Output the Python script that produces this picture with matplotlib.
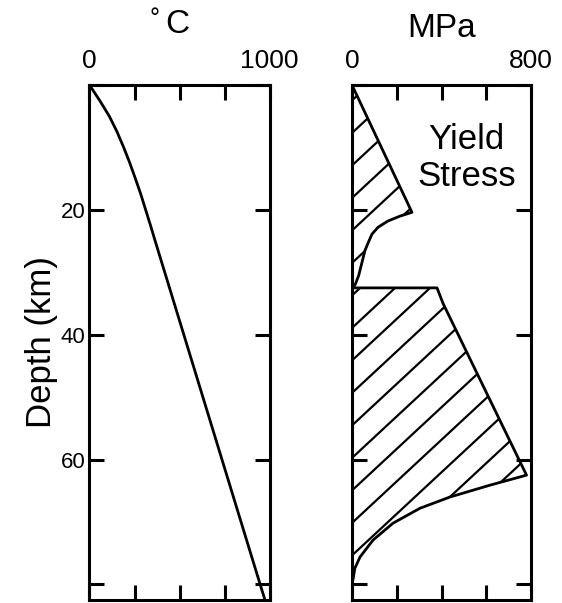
import numpy as np
import matplotlib
matplotlib.use("Agg")
import matplotlib.pyplot as plt
from matplotlib.patches import Polygon

plt.rcParams['font.family'] = ['Liberation Sans', 'DejaVu Sans']

# geotherm: depth (km) vs temperature (C)
depth_T = [0, 2.5, 5, 7.5, 10, 12.5, 15, 17.5, 20, 22.5, 25, 30, 40, 50, 60, 70, 80, 82.5]
temp = [0, 57, 110, 153, 190, 224, 255, 285, 312, 339, 365, 418, 524, 630, 736, 842, 948, 975]

# yield stress envelope, upper (crust) wedge
crust_depth = [0, 20.4, 21.0, 21.8, 22.8, 23.9, 25.3, 26.5, 28.5, 30.5, 32.0, 32.5]
crust_stress = [0, 268, 215, 160, 116, 89, 72, 58, 44, 30, 14, 0]

# yield stress envelope, mantle block
mantle_depth = [32.5, 32.5, 35, 62.5, 64.1, 66.0, 67.8, 70.2, 72.9, 75.6, 77.4, 79.3, 79.5]
mantle_stress = [0, 380, 407, 780, 617, 438, 304, 183, 94, 36, 13, 4, 0]

depth_ticks = [0, 20, 40, 60, 80]
depth_labels = ['', '20', '40', '60', '']
temp_ticks = [0, 250, 500, 750, 1000]
temp_labels = ['0', '', '', '', '1000']
stress_ticks = [0, 200, 400, 600, 800]
stress_labels = ['0', '', '', '', '800']

fig = plt.figure(figsize=(5.62, 6.03), dpi=100)
ax1 = fig.add_axes([89.5 / 562, 3 / 603, 180 / 562, 515 / 603])
ax2 = fig.add_axes([352 / 562, 3 / 603, 179 / 562, 515 / 603])

for ax in (ax1, ax2):
    ax.set_ylim(82.5, 0)
    ax.set_yticks(depth_ticks)
    ax.xaxis.tick_top()
    ax.tick_params(axis='both', which='both', direction='in', length=11, width=2.2,
                   top=True, bottom=True, left=True, right=True,
                   labeltop=True, labelbottom=False)
    ax.tick_params(axis='x', labelsize=19, pad=9)
    ax.tick_params(axis='y', labelsize=16, pad=3)
    for s in ax.spines.values():
        s.set_linewidth(2.2)

ax1.set_xlim(0, 1000)
ax1.set_xticks(temp_ticks)
ax1.set_xticklabels(temp_labels)
ax1.set_yticklabels(depth_labels)
ax1.plot(temp, depth_T, color='black', lw=2.0)
ax1.set_ylabel('Depth (km)', fontsize=25, labelpad=2)
ax1.text(0.49, 1.118, 'C', transform=ax1.transAxes, ha='center', va='center', fontsize=24)
ax1.text(0.36, 1.128, '°', transform=ax1.transAxes, ha='center', va='center', fontsize=18)

ax2.set_xlim(0, 800)
ax2.set_xticks(stress_ticks)
ax2.set_xticklabels(stress_labels)
ax2.set_yticklabels([])
ax2.text(0.5, 1.11, 'MPa', transform=ax2.transAxes, ha='center', va='center', fontsize=24)
ax2.text(0.64, 0.858, 'Yield\nStress', transform=ax2.transAxes, ha='center', va='center',
         fontsize=25, linespacing=1.15)

# hatch lines in axes coords
slope = 0.323
step = 0.0631
for stress, depth in ((crust_stress, crust_depth), (mantle_stress, mantle_depth)):
    poly = Polygon(np.column_stack([stress, depth]), closed=True, facecolor='none',
                   edgecolor='black', lw=2.0, joinstyle='round')
    ax2.add_patch(poly)
    for k in range(-3, 20):
        c = 0.9068 - k * step
        line, = ax2.plot([0, 1], [c, c + slope], color='black', lw=1.6,
                         transform=ax2.transAxes)
        line.set_clip_path(poly)

fig.savefig('out.png', dpi=100)
